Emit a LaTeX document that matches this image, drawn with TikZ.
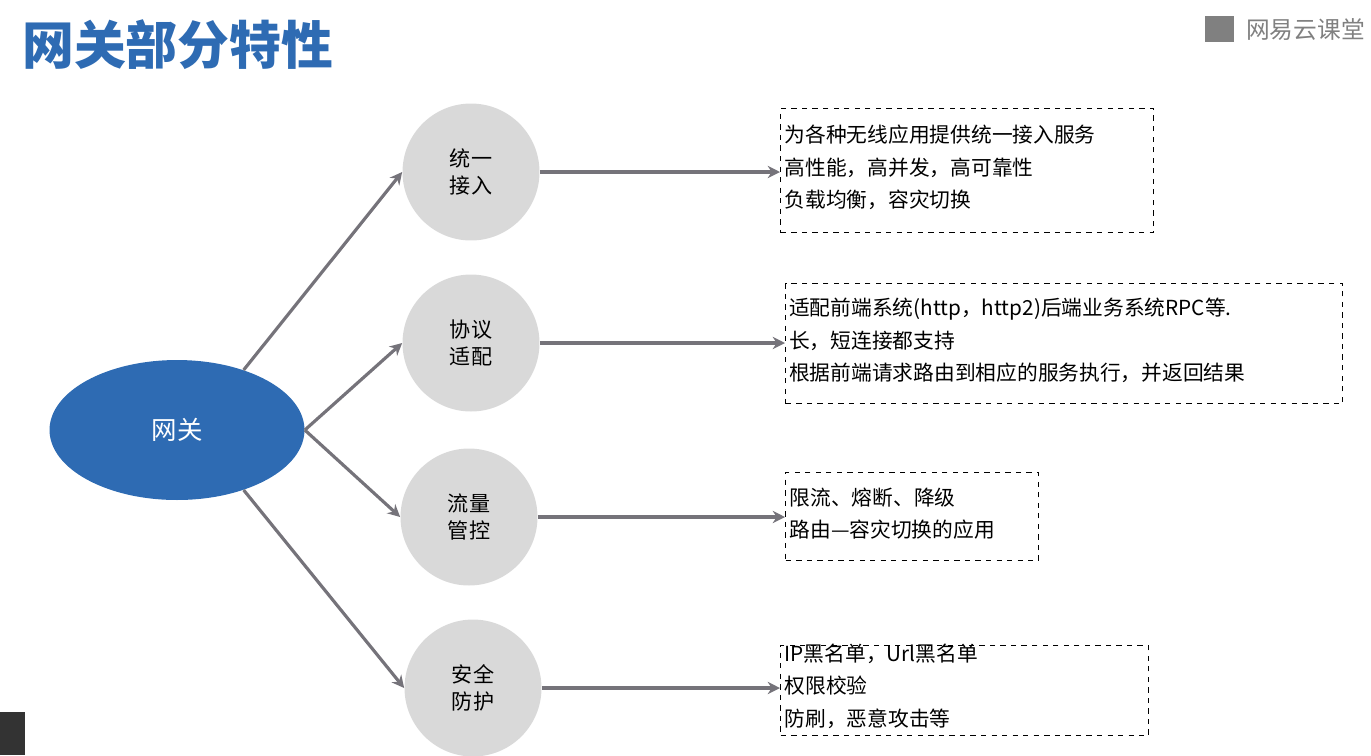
\documentclass[tikz,border=0pt]{standalone}
\usepackage{fontspec}
\setmainfont{Noto Sans CJK SC}
\usetikzlibrary{arrows.meta,shapes.geometric}
\definecolor{gwblue}{HTML}{2E6BB3}
\definecolor{ballgray}{HTML}{D9D9D9}
\definecolor{linegray}{HTML}{75737A}
\tikzset{
    ball/.style={circle, fill=ballgray, minimum size=2.74cm, inner sep=0pt, align=center, font=\fontsize{12}{15}\selectfont},
    note/.style={draw, dashed, thick, anchor=north west, align=left, inner sep=0pt, font=\fontsize{11.8}{18.5}\selectfont},
    link/.style={draw=linegray, line width=1.8pt, -{Stealth[length=7pt,width=7pt]}}
}
\begin{document}
\begin{tikzpicture}[x=0.02cm, y=-0.02cm]
    \useasboundingbox (0,0) rectangle (1371,755);
    \node[anchor=west, text=gwblue, font=\fontsize{29.5}{31}\selectfont\bfseries] (title) at (16,45) {网关部分特性};
    \node[anchor=west, text=gray, font=\fontsize{13.5}{15}\selectfont] (logo) at (1240,30) {网易云课堂};
    \fill[gray] (1205,16) rectangle (1234,42);
    \fill[black!80] (0,712) rectangle (25,755);
    \node[ellipse, fill=gwblue, text=white, minimum width=5.1cm, minimum height=2.8cm, font=\fontsize{14.5}{16}\selectfont] (gw) at (177,430) {网关};
    \node[ball] (b1) at (471,172) {统一\\接入};
    \node[ball] (b2) at (471,343) {协议\\适配};
    \node[ball] (b3) at (469,517) {流量\\管控};
    \node[ball] (b4) at (473,688) {安全\\防护};
    % boxes
    \node[note, minimum width=7.46cm, minimum height=2.48cm, text width=7.3cm] (n1) at (780,108) {\\[-12pt]为各种无线应用提供统一接入服务\\高性能，高并发，高可靠性\\负载均衡，容灾切换};
    \node[note, minimum width=11.14cm, minimum height=2.4cm, text width=11cm] (n2) at (785,283) {\\[-12pt]适配前端系统(http，http2)后端业务系统RPC等.\\长，短连接都支持\\根据前端请求路由到相应的服务执行，并返回结果};
    \node[note, minimum width=5.06cm, minimum height=1.76cm, text width=4.9cm] (n3) at (785,472) {\\[-12pt]限流、熔断、降级\\路由—容灾切换的应用};
    \node[note, minimum width=7.36cm, minimum height=1.8cm, text width=7.2cm] (n4) at (780,645) {\\[-14pt]IP黑名单，Url黑名单\\权限校验\\防刷，恶意攻击等};
    % connectors
    \draw[link] (gw.42) -- (b1.west);
    \draw[link] (gw.east) -- (b2.west);
    \draw[link] (gw.east) -- (b3.west);
    \draw[link] (gw.-42) -- (b4.west);
    \draw[link] (b1.east) -- (b1.east -| n1.west);
    \draw[link] (b2.east) -- (b2.east -| n2.west);
    \draw[link] (b3.east) -- (b3.east -| n3.west);
    \draw[link] (b4.east) -- (b4.east -| n4.west);
\end{tikzpicture}
\end{document}
